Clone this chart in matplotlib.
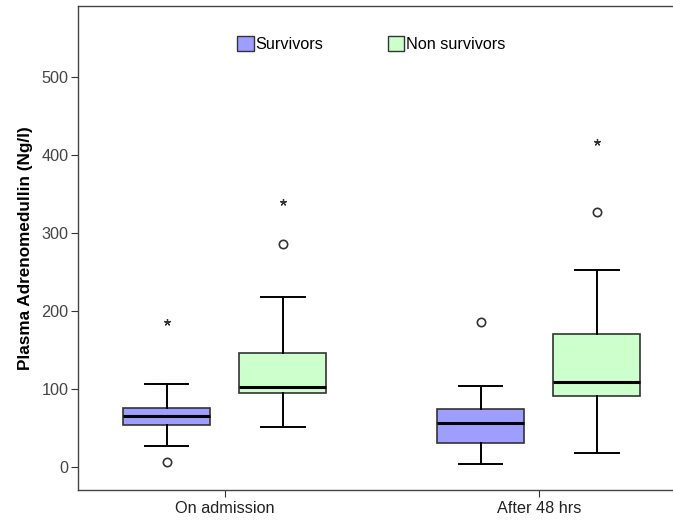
import matplotlib
matplotlib.use("Agg")
import matplotlib.pyplot as plt
from matplotlib.patches import Patch

plt.rcParams['font.family'] = ['Liberation Sans', 'DejaVu Sans']

categories = ["On admission", "After 48 hrs"]
groups = ["Survivors", "Non survivors"]
colors = ["#9e9eff", "#ccffcc"]

# box stats per group, per category: [whislo, q1, med, q3, whishi]
surv_stats = [[27, 53.5, 65.5, 75, 106], [3, 30, 55.7, 73.7, 104]]
nonsurv_stats = [[51, 95, 102, 146.4, 218], [17, 91, 108.7, 170.7, 252.5]]
# outliers: circles (mild), stars (extreme)
surv_circles = [[5.6], [185]]
surv_stars = [[185], []]
nonsurv_circles = [[286], [327]]
nonsurv_stars = [[339], [417]]

fig = plt.figure(figsize=(6.73, 5.21), dpi=100)
ax = fig.add_axes([78/673, 31/521, (672-78)/673, (490-6)/521])

offset = 0.37
width = 0.277
all_stats = [surv_stats, nonsurv_stats]
all_circ = [surv_circles, nonsurv_circles]
all_star = [surv_stars, nonsurv_stars]

for gi, (stats, circ, star) in enumerate(zip(all_stats, all_circ, all_star)):
    sign = -1 if gi == 0 else 1
    bxp = []
    pos = []
    for ci in range(len(categories)):
        lo, q1, med, q3, hi = stats[ci]
        bxp.append(dict(whislo=lo, q1=q1, med=med, q3=q3, whishi=hi, fliers=[]))
        pos.append(ci + sign * offset / 2)
    ax.bxp(bxp, positions=pos, widths=width, patch_artist=True, showfliers=False,
           boxprops=dict(facecolor=colors[gi], edgecolor="#333333", linewidth=1.2),
           medianprops=dict(color="black", linewidth=2.2),
           whiskerprops=dict(color="black", linewidth=1.4),
           capprops=dict(color="black", linewidth=1.4))
    for ci in range(len(categories)):
        p = ci + sign * offset / 2
        for v in circ[ci]:
            ax.plot([p], [v], marker='o', markersize=6, markerfacecolor='white',
                    markeredgecolor='#333333', markeredgewidth=1.2, linestyle='none')
        for v in star[ci]:
            ax.plot([p], [v], marker=(5, 2, 0), markersize=5, color='#333333',
                    markeredgewidth=0.9, linestyle='none')

x0 = -0.4675
ax.set_xlim(x0, x0 + (672 - 78) / 314)
ax.set_ylim(-30, 591)
ax.set_xticks(range(len(categories)))
ax.set_xticklabels(categories, fontsize=11.7, color='#222222')
ax.set_yticks([0, 100, 200, 300, 400, 500])
ax.tick_params(axis='y', labelsize=11.7, labelcolor='#444444', length=5, color='#333333', pad=2)
ax.tick_params(axis='x', length=5, color='#333333', pad=3)
ax.set_ylabel("Plasma Adrenomedullin (Ng/l)", fontsize=12.3, fontweight='bold', labelpad=6)
ax.spines['right'].set_visible(False)
for s in ['left', 'bottom', 'top']:
    ax.spines[s].set_color('#444444')
    ax.spines[s].set_linewidth(1.0)

handles = [Patch(facecolor=colors[i], edgecolor='#333333', label=groups[i]) for i in range(2)]
ax.legend(handles=handles, loc='upper center', bbox_to_anchor=(0.494, 0.968), ncol=2,
          frameon=False, fontsize=11.7, handlelength=1.0, handleheight=1.0,
          handletextpad=0.1, columnspacing=4.0)

fig.savefig("out.png", dpi=100)
